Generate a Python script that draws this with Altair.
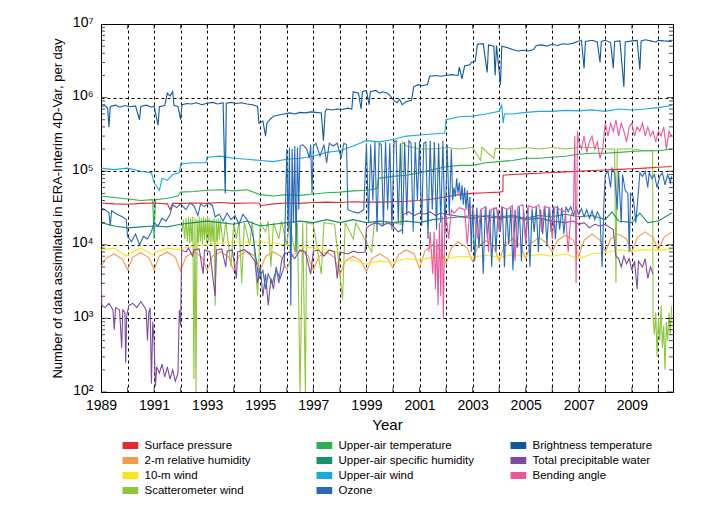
import altair as alt
import pandas as pd

# ---------------- data ----------------
# legend entries, listed column by column
legend_order = ["Surface pressure", "2-m relative humidity", "10-m wind", "Scatterometer wind",
                "Upper-air temperature", "Upper-air specific humidity", "Upper-air wind", "Ozone",
                "Brightness temperature", "Total precipitable water", "Bending angle"]
legend_colors = ["#e52a2f", "#f59a4c", "#f8e51c", "#8ec641",
                 "#2cb14d", "#14906a", "#1ca8e0", "#2b6bb6",
                 "#0f5a9a", "#7d4c9f", "#e65a9c"]

surface_pressure = [(1989.0,37000),(1989.5,36000),(1990.0,35500),(1990.5,36500),(1991.0,37000),(1991.5,36000),
    (1991.6,30000),(1991.7,36500),(1992.0,36500),(1992.5,37000),(1993.0,36500),(1993.5,37500),(1994.0,36500),
    (1994.5,37000),(1994.95,37000),(1995.0,34000),(1995.5,36000),(1996.0,37000),(1996.5,36500),(1997.0,37500),
    (1997.5,38000),(1998.0,37500),(1998.5,38500),(1999.0,38000),(1999.5,38000),(2000.0,38500),(2000.5,39000),
    (2001.0,40000),(2001.5,42000),(2002.0,45000),(2002.5,48000),(2003.0,50000),(2003.5,51000),(2004.0,52000),
    (2004.14,53000),(2004.15,88000),(2004.5,90000),(2005.0,92000),(2005.5,94000),(2006.0,96000),(2006.5,98000),
    (2007.0,100000),(2007.5,102000),(2008.0,104000),(2008.5,106000),(2009.0,108000),(2009.5,110000),
    (2010.0,113000),(2010.5,116000)]

rel_humidity = [(1989.0,5000),(1989.2,6600),(1989.5,7500),(1989.8,6400),
    (1990.0,4600),(1990.2,6800),(1990.5,7800),(1990.8,6700),
    (1991.0,4600),(1991.2,7000),(1991.5,8000),(1991.8,6800),
    (1992.0,4400),(1992.2,6900),(1992.5,8000),(1992.8,6800),
    (1993.0,4500),(1993.2,7000),(1993.5,8000),(1993.8,6900),
    (1994.0,4500),(1994.2,7100),(1994.5,8200),(1994.8,7000),
    (1995.0,4500),(1995.2,7000),(1995.5,8000),(1995.8,6900),
    (1996.0,4600),(1996.2,7200),(1996.5,8300),(1996.8,7100),
    (1997.0,4500),(1997.2,6900),(1997.5,8000),(1997.8,6700),
    (1998.0,3900),(1998.2,6000),(1998.5,7000),(1998.8,6000),
    (1999.0,4300),(1999.2,6500),(1999.5,7500),(1999.8,6500),
    (2000.0,4800),(2000.2,7300),(2000.5,8500),(2000.8,7500),
    (2001.0,4800),(2001.2,8200),(2001.5,10000),(2001.8,8500),
    (2002.0,5500),(2002.2,9000),(2002.45,11000),(2002.8,9000),
    (2003.0,5900),(2003.2,9500),(2003.5,11500),(2003.8,9500),
    (2004.0,6000),(2004.2,10000),(2004.5,12000),(2004.8,10000),
    (2005.0,6500),(2005.2,10500),(2005.5,12500),(2005.8,10500),
    (2006.0,8000),(2006.2,11500),(2006.5,13500),(2006.8,11500),
    (2007.0,7000),(2007.2,11500),(2007.5,14000),(2007.8,11500),
    (2008.0,8000),(2008.2,12000),(2008.5,14000),(2008.8,12000),
    (2009.0,8000),(2009.2,12500),(2009.5,15000),(2009.8,12500),
    (2010.0,8500),(2010.2,12500),(2010.5,15000)]

wind_10m = [(1989.0,8500),(1989.5,9000),(1989.95,7000),(1990.05,7500),(1990.5,9000),(1990.95,7300),(1991.05,7800),
    (1991.5,9000),(1991.95,8500),(1992.0,9000),(1992.5,9500),(1993.0,10000),(1993.5,10500),(1994.0,11000),
    (1994.5,11000),(1995.0,11000),(1995.5,10500),(1996.0,10000),(1996.5,9500),(1997.0,9000),(1997.5,8500),
    (1997.95,8000),(1998.0,5800),(1998.5,6200),(1999.0,5500),(1999.5,6000),(2000.0,5800),(2000.5,6500),
    (2001.0,6200),(2001.5,6800),(2002.0,6500),(2002.5,7000),(2003.0,6800),(2003.5,7200),(2004.0,6800),
    (2004.5,7300),(2005.0,7000),(2005.5,7400),(2006.0,7000),(2006.5,7500),(2007.0,6500),(2007.5,7500),
    (2008.0,7800),(2008.5,8500),(2009.0,8300),(2009.5,8600),(2010.0,8400),(2010.5,8800)]

scatterometer = [(1992.05,15000),(1992.1,22000),(1992.15,12000),(1992.2,23000),(1992.25,11000),(1992.3,24000),
    (1992.34,10500),(1992.38,23000),(1992.42,11000),(1992.46,24000),(1992.5,150),(1992.54,23000),(1992.58,100),
    (1992.62,22000),(1992.66,10500),(1992.7,24000),(1992.74,11000),(1992.78,23000),(1992.82,10000),
    (1992.86,24000),(1992.9,11500),(1992.94,23000),(1992.98,10500),(1993.02,24000),(1993.06,11000),
    (1993.1,23000),(1993.14,10000),(1993.18,22000),(1993.22,11000),(1993.26,23000),(1993.3,1500),
    (1993.34,22000),(1993.38,11000),(1993.42,23000),(1993.46,12000),(1993.5,22000),(1993.6,10000),
    (1993.7,21000),(1993.9,5000),(1994.0,20000),(1994.1,12000),(1994.2,21000),(1994.3,3000),(1994.4,20000),
    (1994.6,10000),(1994.7,21000),(1994.9,2000),(1995.0,20000),(1995.2,15000),(1995.3,21000),(1995.4,5000),
    (1995.5,20000),(1995.7,12000),(1995.8,21000),(1996.0,10000),(1996.1,20000),(1996.3,8000),(1996.4,20000),
    (1996.5,100),(1996.6,20000),(1996.7,100),(1996.75,20000),(1997.0,19000),(1997.3,4000),(1997.4,20000),
    (1997.8,19000),(1998.1,1800),(1998.2,20000),(1998.5,12000),(1998.6,20000),(1999.2,8000),(1999.3,20000),
    (1999.7,19000),(2000.0,20000),(2000.3,19000),(2000.35,250000),(2000.5,220000),(2001.0,200000),
    (2001.5,200000),(2002.0,210000),(2002.5,200000),(2003.0,210000),(2003.3,140000),(2003.35,210000),
    (2003.8,150000),(2003.85,205000),(2004.5,200000),(2005.0,210000),(2005.5,200000),(2006.0,210000),
    (2006.5,200000),(2007.0,210000),(2007.5,210000),(2008.0,200000),(2008.35,200000),(2008.4,3000),
    (2008.45,200000),(2009.0,200000),(2009.5,190000),(2009.78,190000),(2009.8,1000),(2009.85,600),
    (2009.9,1200),(2009.95,300),(2010.0,1000),(2010.05,500),(2010.1,1500),(2010.15,400),(2010.2,800),
    (2010.25,200),(2010.3,900),(2010.35,500),(2010.4,1200),(2010.45,600),(2010.5,1500)]

upper_temp = [(1989.0,46000),(1989.5,44000),(1990.0,42000),(1990.5,40000),(1990.95,41000),(1991.0,12000),
    (1991.05,41000),(1991.5,43000),(1991.9,46000),(1992.0,52000),(1992.5,53000),(1993.0,55000),(1993.5,56000),
    (1994.0,54000),(1994.5,56000),(1995.0,48000),(1995.5,46000),(1996.0,48000),(1996.5,47000),(1997.0,49000),
    (1997.5,51000),(1998.0,52000),(1998.5,54000),(1999.0,55000),(1999.4,58000),(1999.45,80000),(2000.0,85000),
    (2000.5,88000),(2001.0,95000),(2001.5,105000),(2002.0,115000),(2002.5,120000),(2003.0,120000),
    (2003.5,130000),(2004.0,135000),(2004.5,140000),(2005.0,150000),(2005.5,150000),(2006.0,155000),
    (2006.5,160000),(2007.0,170000),(2007.5,175000),(2008.0,175000),(2008.5,180000),(2009.0,185000),
    (2009.5,190000),(2010.0,190000),(2010.5,200000)]

upper_humidity = [(1989.0,20000),(1989.5,18000),(1990.0,17000),(1990.5,17500),(1991.0,18000),(1991.5,17500),
    (1992.0,19000),(1992.5,20000),(1993.0,21000),(1993.5,20000),(1994.0,19000),(1994.5,21000),(1995.0,18000),
    (1995.5,19000),(1996.0,20000),(1996.5,21000),(1997.0,20000),(1997.5,22000),(1998.0,20000),(1998.5,22000),
    (1999.0,20000),(1999.5,21000),(2000.0,20000),(2000.5,21000),(2001.0,20000),(2001.5,22000),(2002.0,23000),
    (2002.5,24000),(2003.0,23000),(2003.5,25000),(2004.0,24000),(2004.5,25000),(2005.0,23000),(2005.5,25000),
    (2006.0,24000),(2006.5,26000),(2007.0,24000),(2007.5,25000),(2008.0,22000),(2008.25,28000),(2008.5,21000),
    (2009.0,20000),(2009.3,27000),(2009.6,20000),(2010.0,21000),(2010.5,27000)]

upper_wind = [(1989.0,110000),(1989.5,105000),(1990.0,110000),(1990.5,100000),(1990.9,95000),(1991.0,70000),
    (1991.2,55000),(1991.3,80000),(1991.5,75000),(1991.7,90000),(1991.95,95000),(1992.0,125000),(1992.5,130000),
    (1992.95,130000),(1993.0,155000),(1993.5,160000),(1994.0,150000),(1994.5,145000),(1995.0,140000),
    (1995.5,135000),(1996.0,145000),(1996.5,150000),(1997.0,160000),(1997.5,180000),(1998.0,190000),
    (1998.5,220000),(1999.0,260000),(1999.5,250000),(2000.0,270000),(2000.5,300000),(2001.0,310000),
    (2001.5,320000),(2001.95,330000),(2002.0,500000),(2002.5,550000),(2003.0,560000),(2003.5,600000),
    (2004.0,650000),(2004.1,800000),(2004.15,450000),(2004.2,600000),(2004.5,600000),(2005.0,630000),
    (2005.5,650000),(2006.0,650000),(2006.5,670000),(2007.0,660000),(2007.5,680000),(2008.0,650000),
    (2008.5,700000),(2009.0,680000),(2009.5,700000),(2010.0,730000),(2010.5,780000)]

ozone = [(1989.0,32000),(1989.15,30000),(1989.3,27000),(1989.35,18000),(1989.4,29000),(1989.6,26000),
    (1989.8,24000),(1989.95,22000),(1990.0,13000),(1990.15,11000),(1990.3,14000),(1990.45,10000),
    (1990.6,13000),(1990.75,12000),(1990.9,15000),(1991.0,20000),(1991.15,18000),(1991.3,23000),
    (1991.45,21000),(1991.6,26000),(1991.7,35000),(1991.85,32000),(1992.0,36000),(1992.2,30000),
    (1992.35,37000),(1992.5,34000),(1992.65,25000),(1992.75,36000),(1992.9,33000),(1993.05,37000),
    (1993.2,34000),(1993.3,24000),(1993.45,26000),(1993.6,21000),(1993.75,27000),(1993.9,22000),
    (1994.05,25000),(1994.2,19000),(1994.35,26000),(1994.5,22000),(1994.65,17000),(1994.75,12000),
    (1994.85,6000),(1994.95,3500),(1995.1,4500),(1995.2,2500),(1995.3,4000),(1995.45,3000),(1995.6,4500),
    (1995.75,3500),(1995.9,5000),(1996.0,200000),(1996.05,15000),(1996.1,210000),(1996.15,1500),
    (1996.2,200000),(1996.25,20000),(1996.3,220000),(1996.35,8000),(1996.4,210000),(1996.45,30000),
    (1996.5,220000),(1996.6,230000),(1996.75,200000),(1996.85,150000),(1996.9,230000),(1996.95,50000),
    (1997.0,220000),(1997.1,240000),(1997.25,160000),(1997.4,230000),(1997.5,130000),(1997.6,240000),
    (1997.75,220000),(1997.9,240000),(1998.05,150000),(1998.15,240000),(1998.25,230000),(1998.3,30000),
    (1998.5,28000),(1998.7,27000),(1998.9,30000),(1999.0,240000),(1999.08,20000),(1999.16,230000),
    (1999.24,40000),(1999.32,250000),(1999.4,15000),(1999.48,240000),(1999.56,230000),(1999.64,18000),
    (1999.72,250000),(1999.8,30000),(1999.88,240000),(1999.96,16000),(2000.04,250000),(2000.12,260000),
    (2000.2,20000),(2000.28,240000),(2000.36,14000),(2000.44,250000),(2000.52,25000),(2000.6,260000),
    (2000.68,240000),(2000.76,15000),(2000.84,250000),(2000.92,40000),(2001.0,260000),(2001.08,18000),
    (2001.16,240000),(2001.24,250000),(2001.32,12000),(2001.4,260000),(2001.48,30000),(2001.56,250000),
    (2001.64,16000),(2001.72,240000),(2001.8,20000),(2001.88,260000),(2001.96,14000),(2002.04,230000),
    (2002.12,25000),(2002.2,200000),(2002.25,40000),(2002.3,60000),(2002.35,45000),(2002.4,80000),
    (2002.45,50000),(2002.5,70000),(2002.55,40000),(2002.6,65000),(2002.65,35000),(2002.7,60000),
    (2002.75,30000),(2002.8,55000),(2002.85,25000),(2002.9,45000),(2002.95,8000),(2003.0,35000),
    (2003.08,6000),(2003.16,32000),(2003.24,9000),(2003.32,30000),(2003.4,4000),(2003.48,33000),
    (2003.56,12000),(2003.64,30000),(2003.72,5000),(2003.8,32000),(2003.88,8000),(2003.96,30000),
    (2004.04,15000),(2004.12,33000),(2004.2,5000),(2004.28,31000),(2004.36,10000),(2004.44,32000),
    (2004.52,4500),(2004.6,30000),(2004.68,9000),(2004.76,33000),(2004.84,6000),(2004.92,30000),
    (2005.0,12000),(2005.08,32000),(2005.16,5000),(2005.24,31000),(2005.32,15000),(2005.4,33000),
    (2005.48,8000),(2005.56,30000),(2005.64,14000),(2005.72,34000),(2005.8,10000),(2005.88,32000),
    (2005.96,15000),(2006.04,33000),(2006.12,12000),(2006.2,34000),(2006.28,16000),(2006.36,32000),
    (2006.44,14000),(2006.52,33000),(2006.6,28000),(2006.7,33000),(2006.8,25000),(2006.9,32000),
    (2007.0,26000),(2007.1,31000),(2007.2,24000),(2007.3,30000),(2007.4,23000),(2007.5,29000),
    (2007.6,22000),(2007.7,28000),(2007.8,24000),(2007.88,5000),(2007.95,40000),(2008.0,90000),
    (2008.1,100000),(2008.2,60000),(2008.25,110000),(2008.35,95000),(2008.45,30000),(2008.5,100000),
    (2008.6,20000),(2008.65,90000),(2008.75,55000),(2008.85,50000),(2008.9,8000),(2008.95,50000),
    (2009.05,45000),(2009.15,20000),(2009.25,55000),(2009.3,95000),(2009.4,85000),(2009.5,100000),
    (2009.6,60000),(2009.65,95000),(2009.75,80000),(2009.85,90000),(2009.95,60000),(2010.05,85000),
    (2010.15,95000),(2010.25,65000),(2010.35,90000),(2010.45,70000),(2010.5,85000)]

brightness = [(1989.0,750000),(1989.15,780000),(1989.25,720000),(1989.3,400000),(1989.35,760000),
    (1989.55,790000),(1989.7,740000),(1989.9,780000),(1990.1,750000),(1990.3,770000),(1990.45,500000),
    (1990.5,760000),(1990.7,790000),(1990.9,740000),(1991.0,770000),(1991.15,420000),(1991.2,750000),
    (1991.4,780000),(1991.5,1150000),(1991.6,1050000),(1991.7,1200000),(1991.75,780000),(1991.9,760000),
    (1992.0,500000),(1992.05,800000),(1992.25,830000),(1992.4,820000),(1992.6,850000),(1992.8,800000),
    (1993.0,840000),(1993.2,860000),(1993.4,820000),(1993.6,850000),(1993.68,50000),(1993.72,840000),
    (1993.9,860000),(1994.1,830000),(1994.3,850000),(1994.5,820000),(1994.7,800000),(1994.9,760000),
    (1994.95,450000),(1995.1,480000),(1995.2,300000),(1995.25,450000),(1995.4,520000),(1995.5,560000),
    (1995.7,580000),(1995.9,600000),(1996.1,620000),(1996.3,600000),(1996.5,630000),(1996.7,620000),
    (1996.9,640000),(1997.1,630000),(1997.3,620000),(1997.38,260000),(1997.45,650000),(1997.5,700000),
    (1997.7,680000),(1997.9,700000),(1998.1,690000),(1998.3,720000),(1998.45,700000),(1998.5,1200000),
    (1998.7,1150000),(1998.8,700000),(1998.85,1200000),(1999.0,1250000),(1999.1,800000),(1999.15,1200000),
    (1999.35,1250000),(1999.5,1150000),(1999.6,1200000),(1999.8,1150000),(1999.95,1000000),(2000.05,900000),
    (2000.15,850000),(2000.25,950000),(2000.35,800000),(2000.5,880000),(2000.7,920000),(2000.78,1400000),
    (2000.95,1500000),(2001.1,1450000),(2001.3,1500000),(2001.38,1950000),(2001.6,2000000),(2001.8,1950000),
    (2002.0,2000000),(2002.2,2050000),(2002.45,2000000),(2002.5,2600000),(2002.6,1800000),(2002.7,2700000),
    (2002.9,2800000),(2002.95,3000000),(2003.1,3100000),(2003.18,5300000),(2003.4,5400000),(2003.55,2200000),
    (2003.6,5200000),(2003.8,5000000),(2003.85,2000000),(2003.9,5100000),(2004.05,1500000),(2004.1,5000000),
    (2004.3,4800000),(2004.5,4500000),(2004.7,4300000),(2004.9,4400000),(2005.1,4300000),(2005.3,4500000),
    (2005.4,5100000),(2005.6,5200000),(2005.8,5000000),(2006.0,5300000),(2006.2,5100000),(2006.4,5400000),
    (2006.6,5300000),(2006.8,5500000),(2006.95,5800000),(2007.1,6000000),(2007.2,2500000),(2007.25,5800000),
    (2007.5,6000000),(2007.7,5700000),(2007.8,3000000),(2007.85,5800000),(2008.0,6000000),(2008.2,5600000),
    (2008.3,2500000),(2008.35,5800000),(2008.55,5900000),(2008.7,1400000),(2008.75,5700000),(2009.0,5900000),
    (2009.2,6000000),(2009.3,2400000),(2009.35,5900000),(2009.5,6100000),(2009.7,5900000),(2009.9,5700000),
    (2010.0,6000000),(2010.2,5900000),(2010.5,5800000)]

precip_water = [(1989.0,5000),(1989.03,1500),(1989.15,1400),(1989.3,1600),(1989.45,1300),(1989.5,700),
    (1989.55,1400),(1989.7,1300),(1989.78,400),(1989.82,1300),(1989.9,1200),(1989.93,250),(1989.97,1100),
    (1990.05,1500),(1990.2,1600),(1990.35,1400),(1990.5,1700),(1990.6,1500),(1990.7,1300),(1990.75,500),
    (1990.8,1200),(1990.85,1400),(1990.9,130),(1990.95,900),(1991.0,500),(1991.05,120),(1991.1,220),
    (1991.2,180),(1991.3,240),(1991.4,160),(1991.5,220),(1991.6,150),(1991.7,200),(1991.8,140),(1991.9,180),
    (1991.95,1300),(1992.0,800),(1992.04,8500),(1992.2,8000),(1992.3,9000),(1992.45,7000),(1992.5,8500),
    (1992.7,8800),(1992.85,4000),(1992.9,8500),(1993.1,8000),(1993.3,2000),(1993.35,8500),(1993.55,8800),
    (1993.7,5000),(1993.75,8200),(1993.95,8500),(1994.1,3500),(1994.15,8000),(1994.4,8600),(1994.6,7500),
    (1994.8,6000),(1994.9,3000),(1995.0,5000),(1995.1,2000),(1995.2,4000),(1995.3,1500),(1995.4,3500),
    (1995.5,2500),(1995.6,5000),(1995.7,3000),(1995.8,6000),(1995.9,7500),(1996.1,8000),(1996.3,6500),
    (1996.5,8500),(1996.7,8000),(1996.9,4000),(1997.0,8200),(1997.2,8500),(1997.4,7000),(1997.6,8500),
    (1997.8,8000),(1997.9,3500),(1998.0,8000),(1998.3,7500),(1998.5,8200),(1998.7,7800),(1998.95,8000),
    (1999.0,17000),(1999.2,19000),(1999.4,20000),(1999.6,18000),(1999.8,20000),(2000.0,18000),(2000.2,15000),
    (2000.35,16000),(2000.4,26000),(2000.6,28000),(2000.8,25000),(2001.0,27000),(2001.2,26000),(2001.4,28000),
    (2001.6,25000),(2001.8,27000),(2002.0,26000),(2002.3,25000),(2002.6,24000),(2003.0,25000),(2003.5,24000),
    (2004.0,23000),(2004.5,24000),(2005.0,22000),(2005.5,23000),(2006.0,21000),(2006.5,20000),(2006.8,21000),
    (2007.0,19000),(2007.2,20000),(2007.4,17000),(2007.6,19000),(2007.8,18000),(2008.0,19000),(2008.2,17000),
    (2008.3,16000),(2008.4,7000),(2008.5,6500),(2008.6,5000),(2008.7,7000),(2008.8,5500),(2008.9,6500),
    (2009.0,4500),(2009.1,6000),(2009.2,2500),(2009.25,6000),(2009.4,5000),(2009.5,6500),(2009.6,3500),
    (2009.7,5000),(2009.8,4000)]

bending_angle = [(2001.35,8000),(2001.4,15000),(2001.5,4000),(2001.55,15000),(2001.6,2500),(2001.65,12000),
    (2001.7,1500),(2001.75,20000),(2001.8,2000),(2001.85,25000),(2001.9,1000),(2001.95,20000),(2002.0,25000),
    (2002.1,12000),(2002.2,30000),(2002.3,27000),(2002.5,32000),(2002.7,30000),(2002.8,10000),(2002.9,32000),
    (2003.0,33000),(2003.2,12000),(2003.3,30000),(2003.5,33000),(2003.6,8000),(2003.7,30000),(2003.9,32000),
    (2004.0,15000),(2004.1,33000),(2004.3,30000),(2004.5,34000),(2004.6,6000),(2004.7,33000),(2004.9,35000),
    (2005.0,10000),(2005.1,34000),(2005.3,32000),(2005.5,35000),(2005.6,15000),(2005.7,33000),(2005.9,32000),
    (2006.0,12000),(2006.1,33000),(2006.3,30000),(2006.5,28000),(2006.6,8000),(2006.7,25000),(2006.8,30000),
    (2006.85,300000),(2006.9,3000),(2006.95,350000),(2007.0,250000),(2007.1,200000),(2007.2,300000),
    (2007.3,180000),(2007.4,250000),(2007.5,300000),(2007.6,200000),(2007.7,250000),(2007.8,150000),
    (2007.9,200000),(2008.0,450000),(2008.1,300000),(2008.2,450000),(2008.3,350000),(2008.4,500000),
    (2008.5,300000),(2008.6,450000),(2008.7,350000),(2008.8,250000),(2008.9,400000),(2009.0,450000),
    (2009.1,300000),(2009.2,400000),(2009.3,350000),(2009.4,450000),(2009.5,300000),(2009.6,400000),
    (2009.7,300000),(2009.8,350000),(2009.9,250000),(2010.0,350000),(2010.1,300000),(2010.2,400000),
    (2010.3,200000),(2010.4,350000),(2010.5,300000)]

# drawing order, bottom to top
series = [("Scatterometer wind", scatterometer), ("2-m relative humidity", rel_humidity),
          ("10-m wind", wind_10m), ("Upper-air specific humidity", upper_humidity),
          ("Upper-air temperature", upper_temp), ("Surface pressure", surface_pressure),
          ("Upper-air wind", upper_wind), ("Brightness temperature", brightness),
          ("Total precipitable water", precip_water), ("Ozone", ozone),
          ("Bending angle", bending_angle)]

year_ticks = list(range(1989, 2011))
decade_ticks = [1e2, 1e3, 1e4, 1e5, 1e6, 1e7]
minor_ticks = [k * 10 ** e for e in range(2, 7) for k in range(2, 10)]
x_lo, x_hi = 1989, 2010.55
y_lo, y_hi = 1e2, 1e7

# ---------------- chart ----------------
FONT = "Liberation Sans"
x_scale = alt.Scale(domain=[x_lo, x_hi], nice=False, zero=False)
y_scale = alt.Scale(type="log", domain=[y_lo, y_hi], nice=False)

x_enc = alt.X("t:Q", scale=x_scale, axis=alt.Axis(
    values=year_ticks, format="d", labelExpr="datum.value % 2 == 1 ? datum.label : ''",
    grid=True, gridDash=[3, 3], gridColor="black", gridOpacity=1, gridWidth=1,
    ticks=False, domain=False, labelFontSize=14, labelPadding=6, labelColor="black",
    labelFlush=False, labelOverlap=False,
    title="Year", titleFontSize=15, titleFontWeight="normal", titlePadding=5, titleColor="black"))
y_enc = alt.Y("v:Q", scale=y_scale, axis=alt.Axis(
    values=decade_ticks,
    labelExpr="'10' + ['⁰','¹','²','³','⁴','⁵','⁶','⁷'][round(log(datum.value)/LN10)]",
    grid=True, gridDash=[3, 3], gridColor="black", gridOpacity=1, gridWidth=1,
    ticks=False, domain=False, labelFontSize=14, labelPadding=8, labelColor="black",
    labelFlush=False, labelOverlap=False, labelOffset=-2,
    title="Number of data assimilated in ERA-Interim 4D-Var, per day",
    titleFontSize=13, titleFontWeight="normal", titlePadding=7, titleColor="black"))

color_scale = alt.Scale(domain=legend_order, range=legend_colors)
legend = alt.Legend(title=None, orient="none", legendX=21.5, legendY=414, columns=3,
                    symbolType="M-5,0H5", symbolSize=16, symbolStrokeWidth=7,
                    symbolOpacity=1, labelFontSize=11.5, labelColor="black", labelOffset=10.5,
                    gridAlign="all", columnPadding=36, rowPadding=0, padding=0, clipHeight=15)

layers = []
for name, pts in series:
    df = pd.DataFrame(pts, columns=["t", "v"])
    df["series"] = name
    layers.append(alt.Chart(df).mark_line(strokeWidth=1.1, clip=True).encode(
        x=x_enc, y=y_enc, color=alt.Color("series:N", scale=color_scale, legend=legend)))

# inward ticks on all four sides
bx = pd.DataFrame({"t": year_ticks + year_ticks,
                   "v": [y_lo] * len(year_ticks) + [y_hi] * len(year_ticks)})
layers.append(alt.Chart(bx).mark_tick(orient="vertical", size=10, thickness=1, color="black",
                                      clip=True).encode(x=x_enc, y=y_enc))
ly = pd.DataFrame({"t": [x_lo] * len(minor_ticks) + [x_hi] * len(minor_ticks),
                   "v": minor_ticks + minor_ticks})
layers.append(alt.Chart(ly).mark_tick(orient="horizontal", size=8, thickness=1, color="black",
                                      clip=True).encode(x=x_enc, y=y_enc))
dy = pd.DataFrame({"t": [x_lo] * len(decade_ticks) + [x_hi] * len(decade_ticks),
                   "v": decade_ticks + decade_ticks})
layers.append(alt.Chart(dy).mark_tick(orient="horizontal", size=12, thickness=1, color="black",
                                      clip=True).encode(x=x_enc, y=y_enc))

chart = alt.layer(*layers).properties(
    width=572, height=368, autosize="none",
    padding={"left": 93, "top": 16, "right": 20, "bottom": 110},
).configure(font=FONT).configure_view(stroke="black", strokeWidth=1)

chart.save("out.html", embed_options={"renderer": "svg", "actions": False})
